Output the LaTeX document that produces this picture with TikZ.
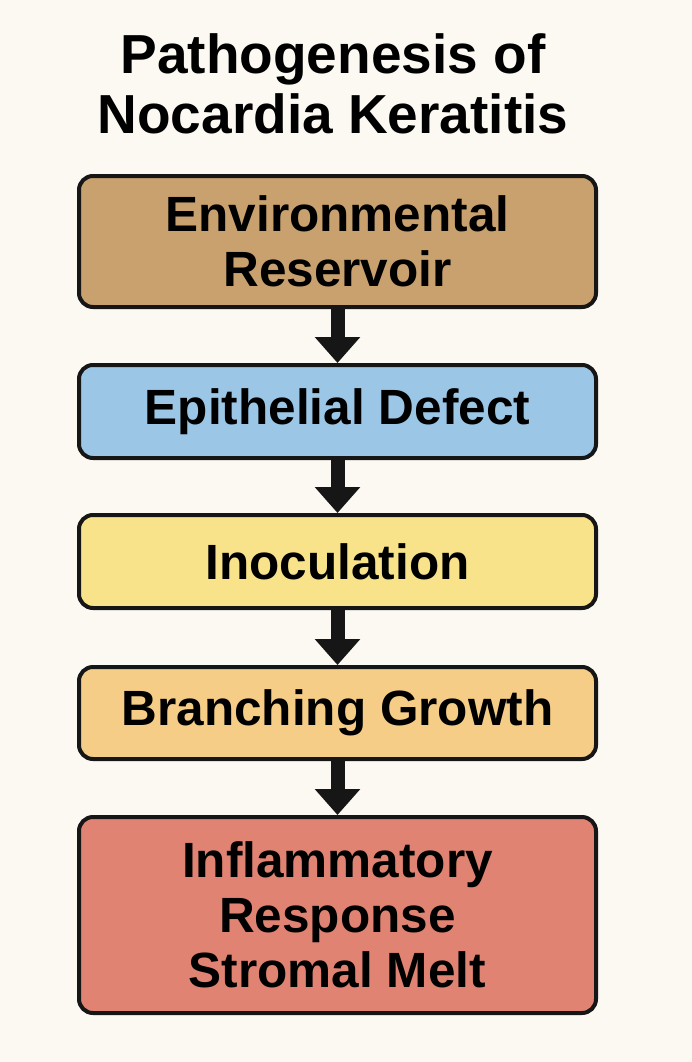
\documentclass[tikz,border=0pt]{standalone}
\usepackage{fontspec}
\setmainfont{Liberation Sans}
\usetikzlibrary{arrows.meta}
\definecolor{bg}{RGB}{252,249,243}
\definecolor{ctan}{RGB}{201,161,110}
\definecolor{cblue}{RGB}{155,198,230}
\definecolor{cyellow}{RGB}{249,227,138}
\definecolor{corange}{RGB}{246,205,134}
\definecolor{cred}{RGB}{224,131,114}
\definecolor{edge}{RGB}{22,22,22}
\tikzset{
  stepbox/.style={draw=edge, line width=4pt, rounded corners=14pt,
    minimum width=517pt, align=center, inner sep=0pt,
    font=\fontsize{49.5}{55}\selectfont\bfseries},
  flowarrow/.style={draw=edge, line width=14pt,
    -{Triangle[width=44pt,length=26pt]}},
  titletext/.style={align=center, font=\fontsize{55}{60}\selectfont\bfseries}
}
\begin{document}
\begin{tikzpicture}[x=1pt,y=-1pt]
\fill[bg] (0,0) rectangle (692,1062);
\useasboundingbox (0,0) rectangle (692,1062);
\node[titletext] (title) at (333,84) {Pathogenesis of\\Nocardia Keratitis};
\node[stepbox, fill=ctan, minimum height=131pt] (env) at (337.5,241.5) {Environmental\\Reservoir};
\node[stepbox, fill=cblue, minimum height=93pt] (epi) at (337.5,411.5) {Epithelial Defect};
\node[stepbox, fill=cyellow, minimum height=93pt] (ino) at (337.5,561.5) {Inoculation};
\node[stepbox, fill=corange, minimum height=92pt] (bra) at (337.5,713) {Branching Growth};
\node[stepbox, fill=cred, minimum height=196pt] (inf) at (337.5,915) {Inflammatory\\Response\\Stromal Melt};
\draw[flowarrow] (env.south) -- (epi.north);
\draw[flowarrow] (epi.south) -- (ino.north);
\draw[flowarrow] (ino.south) -- (bra.north);
\draw[flowarrow] (bra.south) -- (inf.north);
\end{tikzpicture}
\end{document}
